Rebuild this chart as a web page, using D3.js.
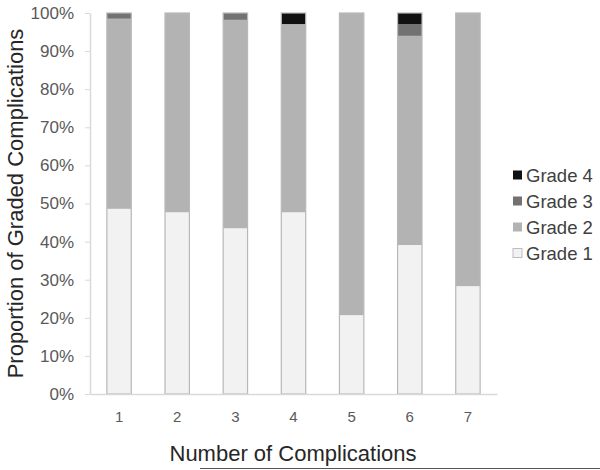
<!DOCTYPE html>
<html>
<head>
<meta charset="utf-8">
<script src="https://cdn.jsdelivr.net/npm/d3@7"></script>
<style>
  body { margin: 0; background: #fff; }
  svg { display: block; font-family: Arial, "Liberation Sans", sans-serif; }
</style>
</head>
<body>
<div id="chart"></div>
<script>
// Chart data (percent of graded complications per grade)
const categories = ['1', '2', '3', '4', '5', '6', '7'];
const grade1 = [48.6, 47.7, 43.5, 47.7, 20.7, 39.1, 28.3];
const grade2 = [49.9, 52.3, 54.7, 49.4, 79.3, 54.9, 71.7];
const grade3 = [1.5, 0, 1.8, 0, 0, 3.1, 0];
const grade4 = [0, 0, 0, 2.9, 0, 2.9, 0];
const gradeNames = ['Grade 1', 'Grade 2', 'Grade 3', 'Grade 4'];
const yTicks = [0, 10, 20, 30, 40, 50, 60, 70, 80, 90, 100];

const width = 600, height = 470;
const margin = { top: 13, right: 103, bottom: 76, left: 90 };

const colors = {
    'Grade 1': '#f2f2f2',
    'Grade 2': '#b3b3b3',
    'Grade 3': '#727272',
    'Grade 4': '#111111'
};

const rows = categories.map((c, i) => ({
    cat: c,
    'Grade 1': grade1[i],
    'Grade 2': grade2[i],
    'Grade 3': grade3[i],
    'Grade 4': grade4[i]
}));

const svg = d3.select('#chart')
    .append('svg')
    .attr('width', width)
    .attr('height', height);

const x = d3.scaleBand()
    .domain(categories)
    .range([margin.left, width - margin.right])
    .paddingInner(0.58)
    .paddingOuter(0.29);

const y = d3.scaleLinear()
    .domain([0, 100])
    .range([height - margin.bottom, margin.top]);

// Stacked bars
const stack = d3.stack().keys(gradeNames);
const series = stack(rows);

svg.append('g')
    .selectAll('g')
    .data(series)
    .enter()
    .append('g')
    .attr('fill', d => colors[d.key])
    .selectAll('rect')
    .data(d => d.filter(p => p[1] - p[0] > 0))
    .enter()
    .append('rect')
    .attr('x', d => x(d.data.cat))
    .attr('width', x.bandwidth())
    .attr('y', d => y(d[1]))
    .attr('height', d => y(d[0]) - y(d[1]));

// thin outline around each bar
svg.append('g')
    .selectAll('rect')
    .data(rows)
    .enter()
    .append('rect')
    .attr('x', d => x(d.cat))
    .attr('width', x.bandwidth())
    .attr('y', y(100))
    .attr('height', y(0) - y(100))
    .attr('fill', 'none')
    .attr('stroke', '#b8b8b8')
    .attr('stroke-width', 1.2);

// Y axis
const yAxis = svg.append('g')
    .attr('transform', `translate(${margin.left},0)`)
    .call(d3.axisLeft(y).tickValues(yTicks).tickFormat(d => d + '%').tickSize(5).tickSizeOuter(0));
yAxis.select('.domain').attr('stroke', '#d9d9d9').attr('stroke-width', 1.5);
yAxis.selectAll('.tick line').attr('stroke', '#d9d9d9');
yAxis.selectAll('.tick text')
    .attr('x', -16)
    .attr('font-size', 17)
    .attr('fill', '#595959')
    .attr('font-family', 'Arial, "Liberation Sans", sans-serif');

// X axis
const xAxis = svg.append('g')
    .attr('transform', `translate(0,${y(0)})`)
    .call(d3.axisBottom(x).tickSize(0).tickSizeOuter(0));
xAxis.select('.domain').attr('stroke', '#d9d9d9').attr('stroke-width', 1.5);
xAxis.selectAll('.tick text')
    .attr('y', 17)
    .attr('font-size', 15)
    .attr('fill', '#595959')
    .attr('font-family', 'Arial, "Liberation Sans", sans-serif');

// Axis titles
svg.append('text')
    .attr('x', 293)
    .attr('y', 461)
    .attr('text-anchor', 'middle')
    .attr('font-size', 22)
    .attr('fill', '#262626')
    .text('Number of Complications');

svg.append('text')
    .attr('transform', `translate(23,${(y(0) + y(100)) / 2}) rotate(-90)`)
    .attr('text-anchor', 'middle')
    .attr('font-size', 22)
    .attr('fill', '#262626')
    .text('Proportion of Graded Complications');

// Legend (top to bottom: Grade 4 .. Grade 1)
const legend = svg.append('g')
    .attr('transform', 'translate(513,175)');

gradeNames.slice().reverse().forEach((name, i) => {
    const g = legend.append('g')
        .attr('transform', `translate(0, ${i * 26})`);
    g.append('rect')
        .attr('x', 0)
        .attr('y', -4.5)
        .attr('width', 9)
        .attr('height', 9)
        .attr('fill', colors[name])
        .attr('stroke', name === 'Grade 1' ? '#bdbdbd' : 'none');
    g.append('text')
        .attr('x', 13)
        .attr('dy', '.36em')
        .attr('font-size', 18.5)
        .attr('fill', '#404040')
        .text(name);
});

// page rule under the figure
svg.append('line')
    .attr('x1', 200)
    .attr('x2', 600)
    .attr('y1', 468.5)
    .attr('y2', 468.5)
    .attr('stroke', '#555')
    .attr('stroke-width', 1);
</script>
</body>
</html>
